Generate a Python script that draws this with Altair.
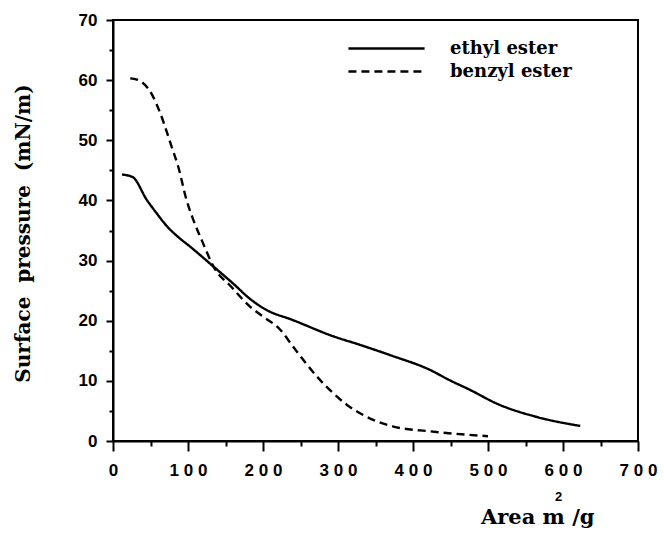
import altair as alt
import pandas as pd

ethyl_x = [12, 26, 45, 58, 72, 89, 103, 134, 160, 183, 203, 240, 294, 329, 369, 423, 449, 476, 512, 565, 623]
ethyl_y = [44.3, 43.9, 40.1, 37.9, 35.7, 33.7, 32.3, 29.0, 26.2, 23.6, 21.9, 20.1, 17.4, 16.0, 14.3, 11.8, 10.1, 8.5, 6.2, 4.0, 2.5]

benzyl_x = [23, 32, 52, 63, 78, 87, 98, 107, 120, 134, 158, 183, 200, 223, 240, 272, 294, 312, 334, 374, 423, 500]
benzyl_y = [60.3, 60.1, 57.6, 54.5, 49.0, 45.6, 40.1, 36.8, 32.9, 29.0, 25.6, 22.3, 20.7, 18.5, 15.7, 10.7, 7.9, 6.0, 4.3, 2.4, 1.6, 0.8]

series_names = ["ethyl ester", "benzyl ester"]
x_major = [0, 100, 200, 300, 400, 500, 600, 700]
x_minor = [50, 150, 250, 350, 450, 550, 650]
y_major = [0, 10, 20, 30, 40, 50, 60, 70]
y_minor = [5, 15, 25, 35, 45, 55, 65]

ethyl_df = pd.DataFrame({"area": ethyl_x, "pressure": ethyl_y,
                         "series": series_names[0], "order": range(len(ethyl_x))})
benzyl_df = pd.DataFrame({"area": benzyl_x, "pressure": benzyl_y,
                          "series": series_names[1], "order": range(len(benzyl_x))})
df = pd.concat([ethyl_df, benzyl_df], ignore_index=True)

SANS = "Liberation Sans"
SERIF = "DejaVu Serif"

xscale = alt.Scale(domain=[0, 700], nice=False, zero=False)
yscale = alt.Scale(domain=[0, 70], nice=False, zero=False)

x_main = alt.X("area:Q", scale=xscale,
               axis=alt.Axis(values=x_major, tickSize=10, tickWidth=2, tickColor="black",
                             domainColor="black", domainWidth=2,
                             labelFont=SANS, labelFontSize=17, labelFontWeight="bold",
                             labelColor="black", labelPadding=11, labelFlush=False,
                             labelExpr="join(split(datum.label, ''), ' ')",
                             grid=False, title="Area m /g", titleFont=SERIF, titleFontSize=21,
                             titleFontWeight="bold", titleColor="black", titleAlign="right",
                             titleAnchor="end", titleBaseline="alphabetic",
                             titleX=481, titleY=82))
y_main = alt.Y("pressure:Q", scale=yscale,
               axis=alt.Axis(values=y_major, tickSize=7, tickWidth=2, tickColor="black",
                             domainColor="black", domainWidth=2,
                             labelFont=SANS, labelFontSize=17, labelFontWeight="bold",
                             labelColor="black", labelPadding=9, labelFlush=False,
                             grid=False, title="Surface\u00a0\u00a0pressure\u00a0\u00a0(mN/m)",
                             titleFont=SERIF, titleFontSize=20, titleFontWeight="bold",
                             titleColor="black", titleAngle=270, titleAlign="center",
                             titleBaseline="middle", titleX=-90, titleY=213))


def legend_for(y):
    return alt.Legend(orient="none", legendX=234, legendY=y, title=None,
                      symbolType="stroke", symbolSize=5800, symbolStrokeWidth=2.4,
                      symbolStrokeColor="black", labelFont=SERIF, labelFontSize=18,
                      labelFontWeight="bold", labelColor="black", labelOffset=24)


ethyl_line = alt.Chart(ethyl_df).mark_line(
    strokeWidth=2.4, color="black", interpolate="monotone").encode(
    x=x_main, y=y_main,
    strokeDash=alt.StrokeDash("series:N",
                              scale=alt.Scale(domain=[series_names[0]], range=[[1, 0]]),
                              legend=legend_for(-11)),
    order="order:Q",
)

benzyl_line = alt.Chart(benzyl_df).mark_line(
    strokeWidth=2.4, color="black", interpolate="monotone").encode(
    x=alt.X("area:Q", scale=xscale, axis=None),
    y=alt.Y("pressure:Q", scale=yscale, axis=None),
    strokeDash=alt.StrokeDash("series:N",
                              scale=alt.Scale(domain=[series_names[1]], range=[[8, 5]]),
                              legend=legend_for(12)),
    order="order:Q",
)

minor = alt.Chart(df).mark_line(opacity=0).encode(
    x=alt.X("area:Q", scale=xscale,
            axis=alt.Axis(orient="bottom", values=x_minor, tickSize=5, tickWidth=2,
                          tickColor="black", domain=False, labels=False, grid=False,
                          title="2", titleFont=SANS, titleFontSize=13, titleFontWeight="bold",
                          titleColor="black", titleAlign="center", titleBaseline="alphabetic",
                          titleX=445, titleY=59)),
    y=alt.Y("pressure:Q", scale=yscale,
            axis=alt.Axis(orient="left", values=y_minor, tickSize=4, tickWidth=2,
                          tickColor="black", domain=False, labels=False, grid=False,
                          title=None)),
    detail="series:N",
)

chart = alt.layer(ethyl_line, benzyl_line, minor).resolve_scale(
    strokeDash="independent"
).resolve_legend(strokeDash="independent").resolve_axis(
    x="independent", y="independent"
).properties(
    width=525, height=421,
    autosize=alt.AutoSizeParams(type="none"),
    padding={"left": 113, "top": 20, "right": 26, "bottom": 95},
    background="white",
).configure_view(stroke="black", strokeWidth=2)

chart.save("out.html", embed_options={"renderer": "svg", "actions": False})
